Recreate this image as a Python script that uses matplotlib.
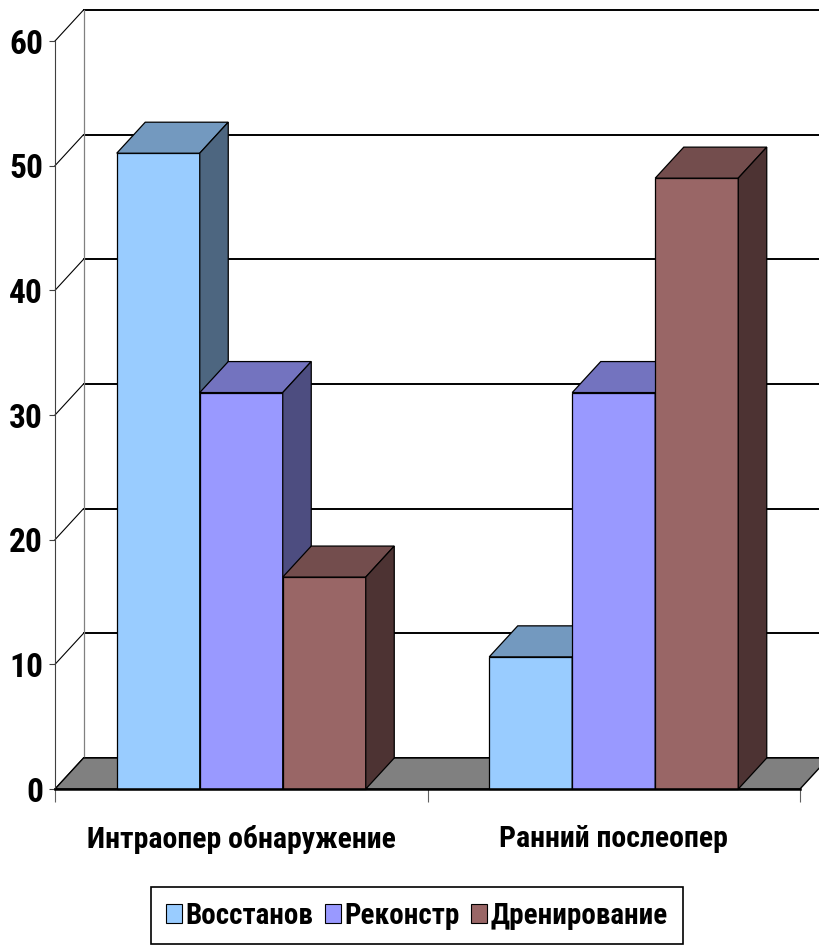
import numpy as np
import matplotlib
matplotlib.use('Agg')
import matplotlib.pyplot as plt
from matplotlib.patches import Polygon, Patch

# --- data ---
categories = ['Интраопер обнаружение', 'Ранний послеопер']
series = ['Восстанов', 'Реконстр', 'Дренирование']
vosstanov = [51, 10.6]
rekonstr = [31.8, 31.8]
drenirovanie = [17, 49]
values = [vosstanov, rekonstr, drenirovanie]
yticks = [0, 10, 20, 30, 40, 50, 60]

# front / top / side shades of the excel-like 3d columns
front_colors = ['#99CCFF', '#9999FF', '#996666']
top_colors = ['#7399BF', '#7373BF', '#734D4D']
side_colors = ['#4D6680', '#4D4D80', '#4D3333']

plt.rcParams['font.family'] = ['Roboto Condensed', 'DejaVu Sans']
plt.rcParams['font.weight'] = 'bold'

W, H = 819, 946
fig = plt.figure(figsize=(W / 100, H / 100), dpi=100)
ax = fig.add_axes([55 / W, 1 - 789 / H, 745 / W, 748 / H])
ax.set_xlim(0, len(categories))
ax.set_ylim(yticks[0], yticks[-1])
ax.patch.set_visible(False)

# depth of the box (pixels up-right) in data units
x0, y0 = ax.transData.transform((0, 0))
ddx, ddy = ax.transData.inverted().transform((x0 + 28.5, y0 + 31))
xmax = len(categories)

# --- walls and floor ---
for v in yticks:
    ax.plot([0, ddx], [v, v + ddy], color='black', lw=0.8,
            clip_on=False, zorder=1)
    ax.plot([ddx, xmax + ddx], [v + ddy, v + ddy], color='black', lw=1.4,
            clip_on=False, zorder=1)
ax.plot([ddx, ddx], [ddy, yticks[-1] + ddy], color='#808080', lw=0.9,
        clip_on=False, zorder=1)
floor = Polygon([(0, 0), (xmax, 0), (xmax + ddx, ddy), (ddx, ddy)],
                closed=True, facecolor='#808080', edgecolor='black', lw=1,
                clip_on=False, zorder=2)
ax.add_patch(floor)

# --- bars ---
xc = np.arange(len(categories)) + 0.5
w = 83 / 372.5
for j, vals in enumerate(values):
    xs = xc + (j - 1) * w
    ax.bar(xs, vals, width=w, color=front_colors[j], edgecolor='black',
           lw=0.9, zorder=3 + j, clip_on=False)
    for x, h in zip(xs, vals):
        l, r = x - w / 2, x + w / 2
        top = Polygon([(l, h), (r, h), (r + ddx, h + ddy), (l + ddx, h + ddy)],
                      facecolor=top_colors[j], edgecolor='black', lw=0.9,
                      zorder=3 + j, clip_on=False)
        side = Polygon([(r, 0), (r + ddx, ddy), (r + ddx, h + ddy), (r, h)],
                       facecolor=side_colors[j], edgecolor='black', lw=0.9,
                       zorder=3 + j, clip_on=False)
        ax.add_patch(top)
        ax.add_patch(side)

# --- axes ---
for s in ['top', 'right']:
    ax.spines[s].set_visible(False)
ax.spines['left'].set_color('#404040')
ax.spines['left'].set_linewidth(0.8)
ax.spines['bottom'].set_color('black')
ax.spines['bottom'].set_linewidth(1.8)
ax.spines['bottom'].set_zorder(10)

ax.set_yticks(yticks)
ax.tick_params(axis='y', length=4.5, width=0.8, color='#404040', pad=4,
               labelsize=24)
ax.set_xticks(range(len(categories) + 1), labels=[])
ax.tick_params(axis='x', which='major', length=9, width=0.8, color='#606060')
ax.set_xticks(xc, labels=categories, minor=True)
ax.tick_params(axis='x', which='minor', length=0, pad=26, labelsize=21.5)

# --- legend ---
handles = [Patch(facecolor=c, edgecolor='black', lw=0.8) for c in front_colors]
leg = fig.legend(handles, series, loc='upper left',
                 bbox_to_anchor=(151 / W, 1 - 887 / H), ncols=3, fontsize=21,
                 fancybox=False, edgecolor='black', framealpha=1,
                 handlelength=0.55, handleheight=0.6, handletextpad=0.12,
                 columnspacing=0.4, borderpad=0.5, borderaxespad=0)
leg.get_frame().set_linewidth(1.2)

fig.savefig('out.png', dpi=100)
